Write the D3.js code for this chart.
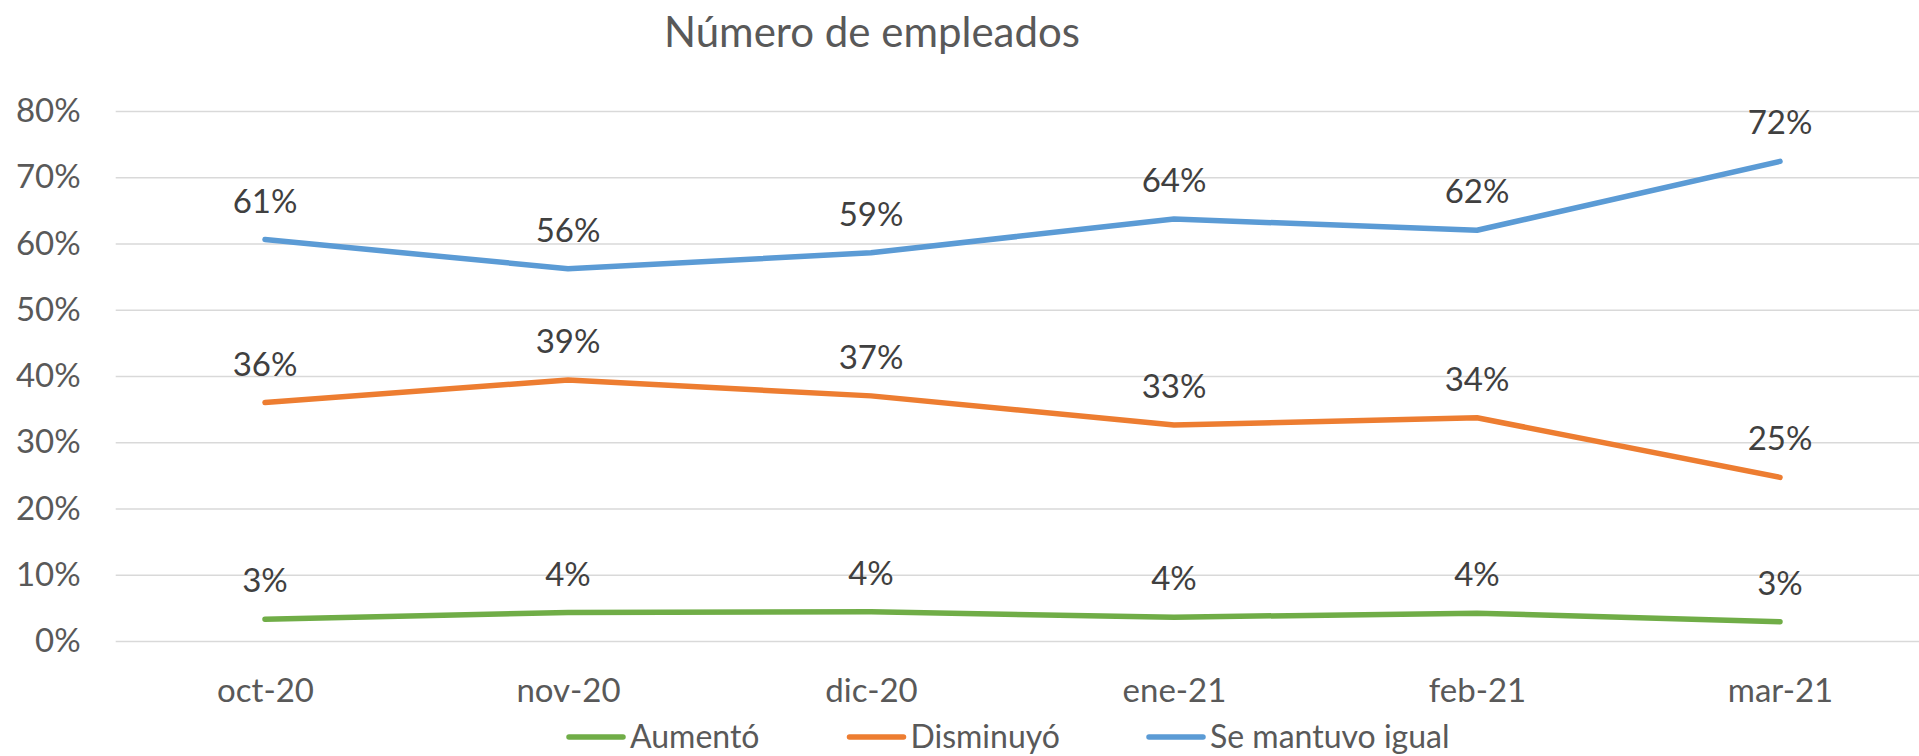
<!DOCTYPE html>
<html>
<head>
<meta charset="utf-8">
<script src="https://cdn.jsdelivr.net/npm/d3@7"></script>
<style>
  html, body { margin: 0; padding: 0; background: #fff; }
  svg { display: block; font-family: Lato, "Open Sans", sans-serif; }
</style>
</head>
<body>
<svg id="chart" width="1919" height="756"></svg>
<script>
const title = "Número de empleados";
const categories = ["oct-20", "nov-20", "dic-20", "ene-21", "feb-21", "mar-21"];
const seriesNames = ["Aumentó", "Disminuyó", "Se mantuvo igual"];
const aumento = [0.033, 0.043, 0.044, 0.036, 0.042, 0.029];
const disminuyo = [0.360, 0.394, 0.370, 0.326, 0.337, 0.247];
const igual = [0.606, 0.562, 0.586, 0.637, 0.620, 0.724];
const seriesColors = ["#70AD47", "#ED7D31", "#5B9BD5"];
const yTicks = [0, 0.1, 0.2, 0.3, 0.4, 0.5, 0.6, 0.7, 0.8];

const series = [
  { name: seriesNames[0], values: aumento, color: seriesColors[0] },
  { name: seriesNames[1], values: disminuyo, color: seriesColors[1] },
  { name: seriesNames[2], values: igual, color: seriesColors[2] }
];

const svg = d3.select("#chart");
const plotLeft = 115.7, plotRight = 1931;

const x = d3.scalePoint().domain(categories).range([265, 1780]);
const y = d3.scaleLinear().domain([0, 0.8]).range([641, 111]);
const pct = d3.format(".0%");

// Title
svg.append("text")
  .attr("x", 872).attr("y", 47)
  .attr("text-anchor", "middle")
  .attr("font-size", 42)
  .attr("fill", "#595959")
  .text(title);

// Gridlines + y labels
const yAxis = d3.axisLeft(y).tickValues(yTicks).tickFormat(pct)
  .tickSize(-(plotRight - plotLeft)).tickPadding(35);
const gy = svg.append("g").attr("transform", `translate(${plotLeft},0)`).call(yAxis);
gy.select(".domain").remove();
gy.selectAll(".tick line").attr("stroke", "#D9D9D9").attr("stroke-width", 1.6);
gy.selectAll(".tick text")
  .attr("font-size", 33).attr("fill", "#595959")
  .attr("font-family", "Lato, 'Open Sans', sans-serif");

// X axis labels
const xAxis = d3.axisBottom(x).tickSize(0).tickPadding(0);
const gx = svg.append("g").call(xAxis);
gx.select(".domain").remove();
gx.selectAll(".tick text")
  .attr("y", 702).attr("dy", null)
  .attr("font-size", 33).attr("fill", "#595959")
  .attr("font-family", "Lato, 'Open Sans', sans-serif");

// Lines
const line = d3.line()
  .x((d, i) => x(categories[i]))
  .y(d => y(d));

svg.selectAll("path.series")
  .data(series)
  .enter().append("path")
  .attr("class", "series")
  .attr("d", d => line(d.values))
  .attr("fill", "none")
  .attr("stroke", d => d.color)
  .attr("stroke-width", 5.5)
  .attr("stroke-linecap", "round")
  .attr("stroke-linejoin", "round");

// Data labels
series.forEach(s => {
  svg.append("g").selectAll("text")
    .data(s.values)
    .enter().append("text")
    .attr("x", (d, i) => x(categories[i]))
    .attr("y", d => y(d) - 27)
    .attr("text-anchor", "middle")
    .attr("font-size", 33)
    .attr("fill", "#404040")
    .text(d => pct(d));
});

// Legend
const legendX = [569, 849.5, 1149];
const lg = svg.append("g");
series.forEach((s, i) => {
  const g = lg.append("g").attr("transform", `translate(${legendX[i]},0)`);
  g.append("line")
    .attr("x1", 0).attr("x2", 54)
    .attr("y1", 737).attr("y2", 737)
    .attr("stroke", s.color).attr("stroke-width", 5.5)
    .attr("stroke-linecap", "round");
  g.append("text")
    .attr("x", 61).attr("y", 748)
    .attr("font-size", 32)
    .attr("fill", "#595959")
    .text(s.name);
});
</script>
</body>
</html>
